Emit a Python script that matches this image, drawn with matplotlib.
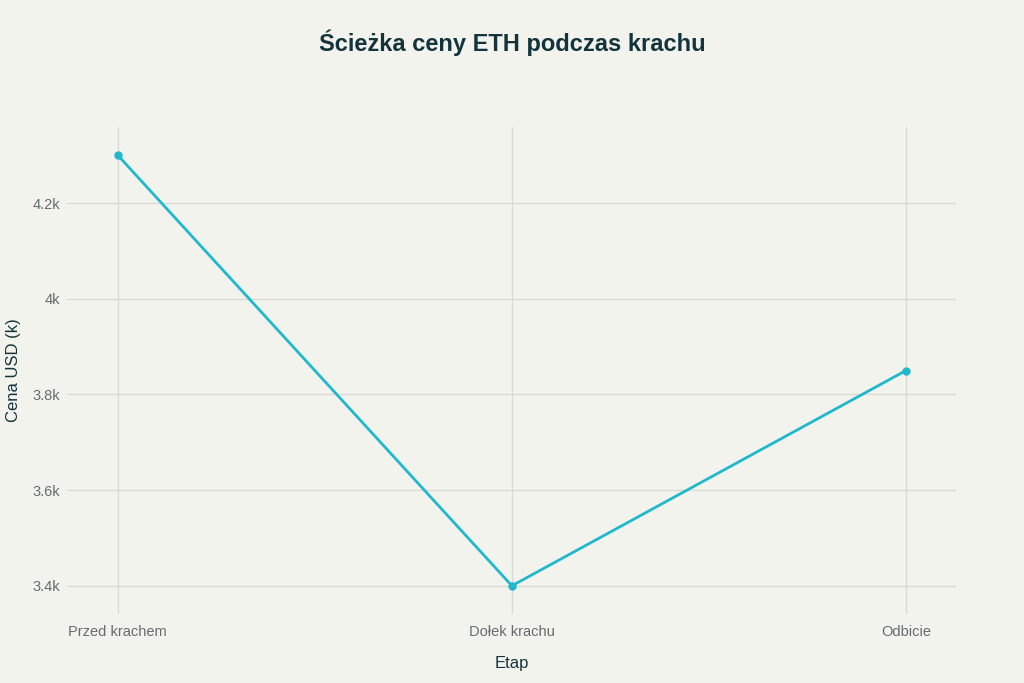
import matplotlib.pyplot as plt
from matplotlib.ticker import FuncFormatter

plt.rcParams['font.family'] = ['Liberation Sans', 'DejaVu Sans']

# Data
stages = ["Przed krachem", "Dołek krachu", "Odbicie"]
prices_usd = [4300, 3400, 3850]
y_ticks = [3400, 3600, 3800, 4000, 4200]

BG = "#F3F3EE"
LINE = "#1FB8CD"
GRID = "#DADAD5"
TEXT_DARK = "#13343B"
TEXT_GREY = "#646C6F"

fig = plt.figure(figsize=(10.24, 6.83), dpi=100, facecolor=BG)
ax = fig.add_axes([0.0654, 0.101, 0.8682, 0.713], facecolor=BG)

x = list(range(len(stages)))
ax.plot(x, prices_usd, color=LINE, linewidth=2.0, marker="o", markersize=5,
        zorder=3)

ax.set_xlim(-0.129, 2.127)
ax.set_ylim(3341, 4359)
ax.set_xticks(x)
ax.set_xticklabels(stages)
ax.set_yticks(y_ticks)

def fmt_k(v, pos):
    s = f"{v / 1000:.1f}".rstrip("0").rstrip(".")
    return s + "k"

ax.yaxis.set_major_formatter(FuncFormatter(fmt_k))

ax.grid(True, color=GRID, linewidth=0.9)
ax.set_axisbelow(True)
for spine in ax.spines.values():
    spine.set_visible(False)
ax.tick_params(axis="both", length=0, labelsize=10.5, labelcolor=TEXT_GREY)
ax.tick_params(axis="x", pad=8)
ax.tick_params(axis="y", pad=5)

ax.set_xlabel("Etap", fontsize=12, color=TEXT_DARK, labelpad=12)
ax.set_ylabel("Cena USD (k)", fontsize=12, color=TEXT_DARK, labelpad=8)

fig.text(0.5, 0.937, "Ścieżka ceny ETH podczas krachu", ha="center", va="center",
         fontsize=17, fontweight="bold", color=TEXT_DARK)

fig.savefig("out.png", dpi=100, facecolor=BG)
